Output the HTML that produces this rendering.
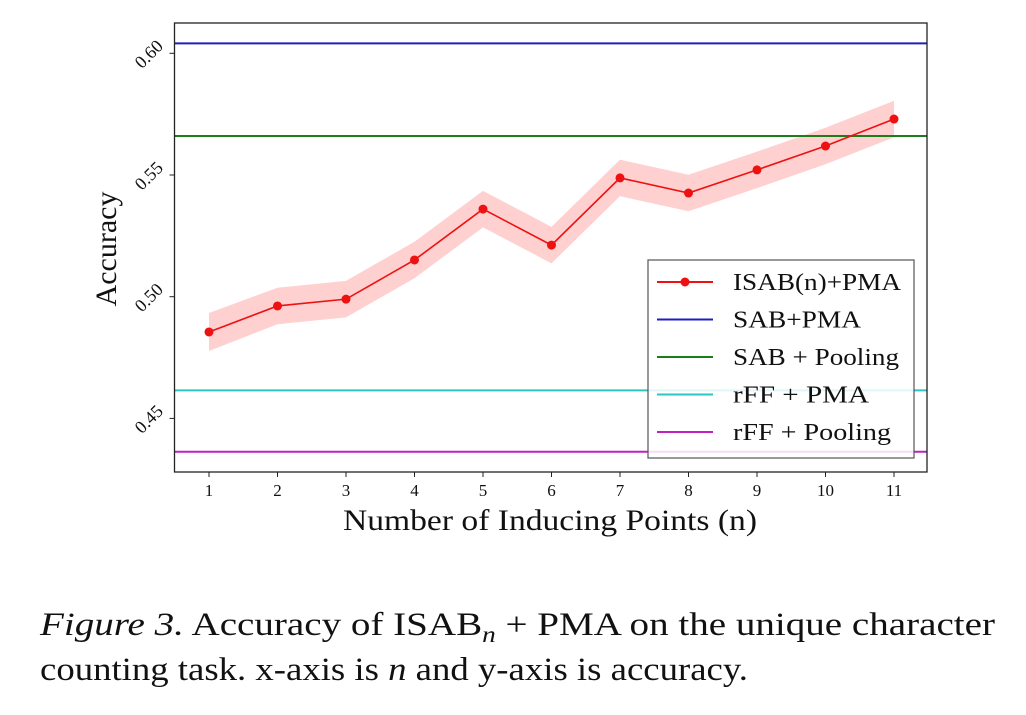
<!DOCTYPE html>
<html><head><meta charset="utf-8"><style>
body{margin:0;background:#fff;width:1026px;height:710px;overflow:hidden}
svg text{font-family:"Liberation Serif",serif;fill:#111}
</style></head><body>
<svg id="chart" width="1026" height="710" xmlns="http://www.w3.org/2000/svg">
<g id="plot"></g>
<text x="343" y="530" font-size="30" textLength="414" lengthAdjust="spacingAndGlyphs">Number of Inducing Points (n)</text>
<text x="0" y="0" font-size="30" text-anchor="middle" transform="translate(116,249) rotate(-90)">Accuracy</text>
<g font-size="33">
<text x="40" y="635" textLength="955" lengthAdjust="spacingAndGlyphs"><tspan font-style="italic">Figure 3.</tspan>  Accuracy of ISAB<tspan font-style="italic" font-size="23" dy="7">n</tspan><tspan dy="-7"> + PMA on the unique character</tspan></text>
<text x="40" y="680" textLength="708" lengthAdjust="spacingAndGlyphs">counting task. x-axis is <tspan font-style="italic">n</tspan> and y-axis is accuracy.</text>
</g>
</svg>
<script>
const xCats=[1,2,3,4,5,6,7,8,9,10,11];
const isabAcc=[0.4855,0.4962,0.4990,0.5151,0.5360,0.5212,0.5488,0.5426,0.5521,0.5619,0.5730];
const isabErr=[0.0078,0.0075,0.0075,0.0075,0.0075,0.0075,0.0075,0.0075,0.0075,0.0075,0.0075];
const baselineNames=["SAB+PMA","SAB + Pooling","rFF + PMA","rFF + Pooling"];
const baselineVals=[0.6041,0.5660,0.4615,0.4363];
const baselineColors=["#1f1fbf","#1a7f1a","#2ec4c0","#c020c0"];
const yTicks=[0.45,0.50,0.55,0.60];
const yTickLabels=["0.45","0.50","0.55","0.60"];
const L=174.5,R=927,T=23,B=472;
const xs=v=>209+(v-1)*68.5;
const ys=v=>296.7-(v-0.5)*2434;
const NS="http://www.w3.org/2000/svg";
const g=document.getElementById('plot');
function mk(t,a){const e=document.createElementNS(NS,t);for(const k in a)e.setAttribute(k,a[k]);g.appendChild(e);return e;}
let pts=xCats.map((c,i)=>xs(c)+','+ys(isabAcc[i]+isabErr[i]));
pts=pts.concat(xCats.map((c,i)=>xs(c)+','+ys(isabAcc[i]-isabErr[i])).reverse());
let band=mk('polygon',{points:pts.join(' '),fill:'#ffd0d0'});


baselineVals.forEach((v,i)=>{const l=mk('line',{x1:L,x2:R,y1:ys(v),y2:ys(v),stroke:baselineColors[i],'stroke-width':2});

});
let pl=mk('polyline',{points:xCats.map((c,i)=>xs(c)+','+ys(isabAcc[i])).join(' '),fill:'none',stroke:'#ee1111','stroke-width':1.6});


xCats.forEach((c,i)=>{const p=mk('circle',{cx:xs(c),cy:ys(isabAcc[i]),r:4.5,fill:'#ee1111'});

});
let fr=mk('rect',{x:L,y:T,width:R-L,height:B-T,fill:'none',stroke:'#222','stroke-width':1.3});


xCats.forEach(c=>{mk('line',{x1:xs(c),x2:xs(c),y1:B,y2:B+5,stroke:'#222'});
const t=mk('text',{x:xs(c),y:B+24,'font-size':17,'text-anchor':'middle'});t.textContent=c;

});
yTicks.forEach((v,i)=>{mk('line',{x1:L-5,x2:L,y1:ys(v),y2:ys(v),stroke:'#222'});
const t=mk('text',{x:0,y:0,'font-size':18,'text-anchor':'middle',transform:`translate(153,${ys(v)+5}) rotate(-45)`});t.textContent=yTickLabels[i];

});
let lg=mk('rect',{x:648,y:260,width:266,height:198,fill:'rgba(255,255,255,0.85)',stroke:'#555','stroke-width':1.2});


const names=["ISAB(n)+PMA"].concat(baselineNames),cols=["#ee1111"].concat(baselineColors);
const lens=[168,128,166,136,158];
names.forEach((n,i)=>{const y=282+i*37.5;
mk('line',{x1:657,x2:713,y1:y,y2:y,stroke:cols[i],'stroke-width':2});
if(i==0)mk('circle',{cx:685,cy:y,r:4.5,fill:cols[0]});
const t=mk('text',{x:733,y:y+8,'font-size':24,textLength:lens[i],lengthAdjust:'spacingAndGlyphs'});t.textContent=n;

});
</script>
</body></html>
